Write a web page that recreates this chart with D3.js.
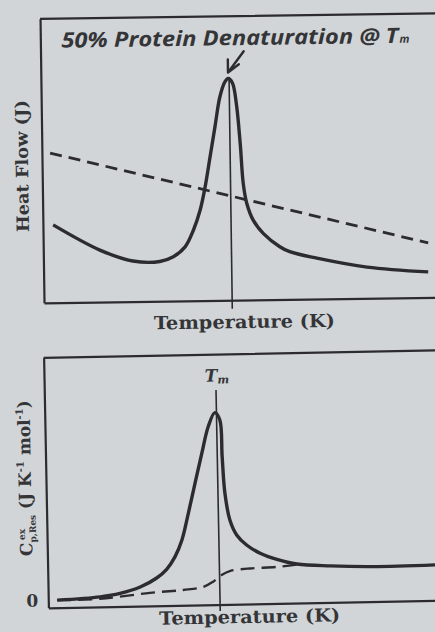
<!DOCTYPE html>
<html><head><meta charset="utf-8">
<script src="https://cdn.jsdelivr.net/npm/d3@7"></script>
<style>
html,body{margin:0;padding:0;background:#d1d5d8;}
svg{display:block;}
</style>
</head><body>
<script>
// ---------- DATA (arbitrary units) ----------
// Top panel: heat flow vs temperature
const topTemperature = [2.5, 13.8, 21.8, 28.4, 31.7, 34.6, 36.7, 38.4, 39.7, 41.0, 42.3, 43.6, 44.9, 45.7, 46.7, 47.6, 48.4, 49.0, 49.8, 51.3, 53.7, 57.7, 60.1, 66.7, 78.9, 93.8];
const topHeatFlow    = [27.4, 18.3, 14.3, 14.0, 15.6, 19.0, 24.9, 31.9, 40.1, 50.6, 61.2, 71.7, 77.0, 78.1, 76.5, 69.0, 55.0, 41.0, 34.0, 28.1, 23.4, 18.6, 16.8, 14.4, 11.0, 9.0];
const topBaselineTemperature = [2.0, 93.9];
const topBaseline            = [52.7, 19.2];
const topTm = 45.9;
const topTmPeak = 78.1;

// Bottom panel: excess heat capacity vs temperature
const bottomTemperature = [2.2, 12.8, 17.7, 22.7, 26.8, 29.3, 31.4, 33.2, 34.9, 36.7, 38.5, 40.2, 41.9, 43.1, 43.5, 44.0, 45.1, 46.7, 49.1, 52.4, 56.5, 61.4, 69.6, 80.0, 95.4];
const bottomCp          = [0, 1.0, 2.2, 4.6, 8.1, 11.5, 16.4, 23.1, 33.7, 45.7, 57.6, 68.2, 73.8, 70.8, 56.0, 41.6, 30.7, 24.7, 20.6, 17.2, 14.6, 12.6, 11.6, 11.0, 11.2];
const bottomBaselineTemperature = [2.2, 12.7, 25.1, 33.3, 38.3, 40.7, 42.8, 45.0, 49.8, 56.4, 61.4];
const bottomBaseline            = [0, 0.2, 2.2, 3.1, 4.2, 6.2, 8.8, 10.4, 11.2, 11.6, 12.4];
const bottomTm = 42.3;
const bottomTmLineTop = 82.8;
const bottomYTicks = [0];

// Texts
const titleText = "50% Protein Denaturation @ T";
const titleSub = "m";
const topYLabel = "Heat Flow (J)";
const xLabel = "Temperature (K)";
const tmLabel = "T";
const tmSub = "m";

// ---------- DRAWING ----------
const W = 435, H = 632;
const ink = "#2c2c2f", textInk = "#353538";
const svg = d3.select("body").append("svg").attr("width", W).attr("height", H);
svg.append("rect").attr("width", W).attr("height", H).attr("fill", "#d1d5d8");

const serif = "'DejaVu Serif', 'Liberation Serif', serif";

function panel(opts) {
  const g = svg.append("g").attr("transform", `rotate(${opts.rot},${opts.cx},${opts.cy})`);
  const x = d3.scaleLinear().domain([0, 100]).range([opts.x0, opts.x1]);
  const y = d3.scaleLinear().domain(opts.yDomain).range([opts.y1, opts.y0]);
  g.append("path").attr("d", `M${opts.x0},${opts.y0}H${opts.x1}V${opts.y1}`)
    .attr("fill", "none").attr("stroke", ink).attr("stroke-width", 2.2);
  const xAxis = g.append("g").attr("transform", `translate(0,${opts.y1})`)
    .call(d3.axisBottom(x).tickValues([]).tickSizeOuter(0));
  const yAxis = g.append("g").attr("transform", `translate(${opts.x0},0)`)
    .call(d3.axisLeft(y).tickValues(opts.yTicks || []).tickSize(0).tickSizeOuter(0).tickPadding(10).tickFormat(d3.format("d")));
  [xAxis, yAxis].forEach(a => {
    a.select(".domain").attr("stroke", ink).attr("stroke-width", 2.2);
    a.selectAll("text").attr("font-family", serif).attr("font-weight", "bold")
      .attr("font-size", 17).attr("fill", textInk);
  });
  return {g, x, y};
}

// ---- top panel
{
  const {g, x, y} = panel({rot: -0.8, cx: 246, cy: 158, x0: 42, x1: 452, y0: 16, y1: 300, yDomain: [0, 100]});
  const line = d3.line().x(d => x(d[0])).y(d => y(d[1])).curve(d3.curveCatmullRom.alpha(0.5));

  g.append("line").attr("x1", x(topTm)).attr("x2", x(topTm))
    .attr("y1", y(topTmPeak)).attr("y2", y(-3))
    .attr("stroke", ink).attr("stroke-width", 1.6);

  g.append("path").datum(d3.zip(topBaselineTemperature, topBaseline)).attr("d", line)
    .attr("fill", "none").attr("stroke", ink).attr("stroke-width", 2.8)
    .attr("stroke-dasharray", "12 7");
  g.append("path").datum(d3.zip(topTemperature, topHeatFlow)).attr("d", line)
    .attr("fill", "none").attr("stroke", ink).attr("stroke-width", 3.4).attr("stroke-linejoin", "round");

  const tx = x(topTm) - 1, ty = y(topTmPeak) - 6;
  g.append("path").attr("d", `M${tx + 16},${ty - 21}L${tx},${ty}M${tx},${ty - 13}L${tx},${ty}L${tx + 11},${ty - 8}`)
    .attr("fill", "none").attr("stroke", ink).attr("stroke-width", 2.4).attr("stroke-linecap", "round").attr("stroke-linejoin", "round");

  g.append("text").attr("x", 63).attr("y", 45).text(titleText)
    .attr("font-family", "'Open Sans', 'DejaVu Sans', sans-serif").attr("font-style", "italic").attr("font-weight", "bold")
    .attr("font-size", 21).attr("fill", textInk)
    .attr("textLength", 337).attr("lengthAdjust", "spacingAndGlyphs");
  g.append("text").attr("x", 401).attr("y", 45).text(titleSub)
    .attr("font-family", "'Open Sans', 'DejaVu Sans', sans-serif").attr("font-style", "italic").attr("font-weight", "bold")
    .attr("font-size", 11).attr("fill", textInk);

  g.append("text").attr("x", 242).attr("y", 328).attr("text-anchor", "middle").text(xLabel)
    .attr("font-family", serif).attr("font-weight", "bold").attr("font-size", 18).attr("fill", textInk)
    .attr("textLength", 181).attr("lengthAdjust", "spacingAndGlyphs");
  g.append("text").attr("transform", "translate(28,163) rotate(-90)").attr("text-anchor", "middle").text(topYLabel)
    .attr("font-family", serif).attr("font-weight", "bold").attr("font-size", 17).attr("fill", textInk)
    .attr("textLength", 132).attr("lengthAdjust", "spacingAndGlyphs");
}

// ---- bottom panel
{
  const {g, x, y} = panel({rot: -1.1, cx: 246, cy: 480, x0: 46, x1: 452, y0: 354, y1: 604, yDomain: [-3, 97], yTicks: bottomYTicks});
  const line = d3.line().x(d => x(d[0])).y(d => y(d[1])).curve(d3.curveCatmullRom.alpha(0.5));

  g.append("line").attr("x1", x(bottomTm)).attr("x2", x(bottomTm))
    .attr("y1", y(bottomTmLineTop)).attr("y2", y(-5.6))
    .attr("stroke", ink).attr("stroke-width", 1.6);

  g.append("path").datum(d3.zip(bottomBaselineTemperature, bottomBaseline)).attr("d", line)
    .attr("fill", "none").attr("stroke", ink).attr("stroke-width", 2.4)
    .attr("stroke-dasharray", "14 7");
  g.append("path").datum(d3.zip(bottomTemperature, bottomCp)).attr("d", line)
    .attr("fill", "none").attr("stroke", ink).attr("stroke-width", 3.4).attr("stroke-linejoin", "round");

  const tl = g.append("text").attr("x", x(bottomTm) - 11).attr("y", 381)
    .attr("font-family", serif).attr("font-style", "italic").attr("font-weight", "bold").attr("fill", textInk);
  tl.append("tspan").attr("font-size", 17).text(tmLabel);
  tl.append("tspan").attr("font-size", 11).attr("dy", 2).text(tmSub);

  g.append("text").attr("x", 247).attr("y", 623).attr("text-anchor", "middle").text(xLabel)
    .attr("font-family", serif).attr("font-weight", "bold").attr("font-size", 18).attr("fill", textInk)
    .attr("textLength", 181).attr("lengthAdjust", "spacingAndGlyphs");

  const yl = g.append("text").attr("transform", "translate(31,474) rotate(-90)").attr("text-anchor", "middle")
    .attr("font-family", serif).attr("font-weight", "bold").attr("font-size", 17).attr("fill", textInk);
  yl.append("tspan").text("C");
  yl.append("tspan").attr("font-size", 9).attr("dy", 4).text("p,Res");
  yl.append("tspan").attr("font-size", 9).attr("dx", -25).attr("dy", -11).text("ex");
  yl.append("tspan").attr("dx", 14).attr("dy", 7).text(" (J K");
  yl.append("tspan").attr("font-size", 10).attr("dy", -7).text("-1");
  yl.append("tspan").attr("dy", 7).text(" mol");
  yl.append("tspan").attr("font-size", 10).attr("dy", -7).text("-1");
  yl.append("tspan").attr("dy", 7).text(")");
}
</script>
</body></html>
